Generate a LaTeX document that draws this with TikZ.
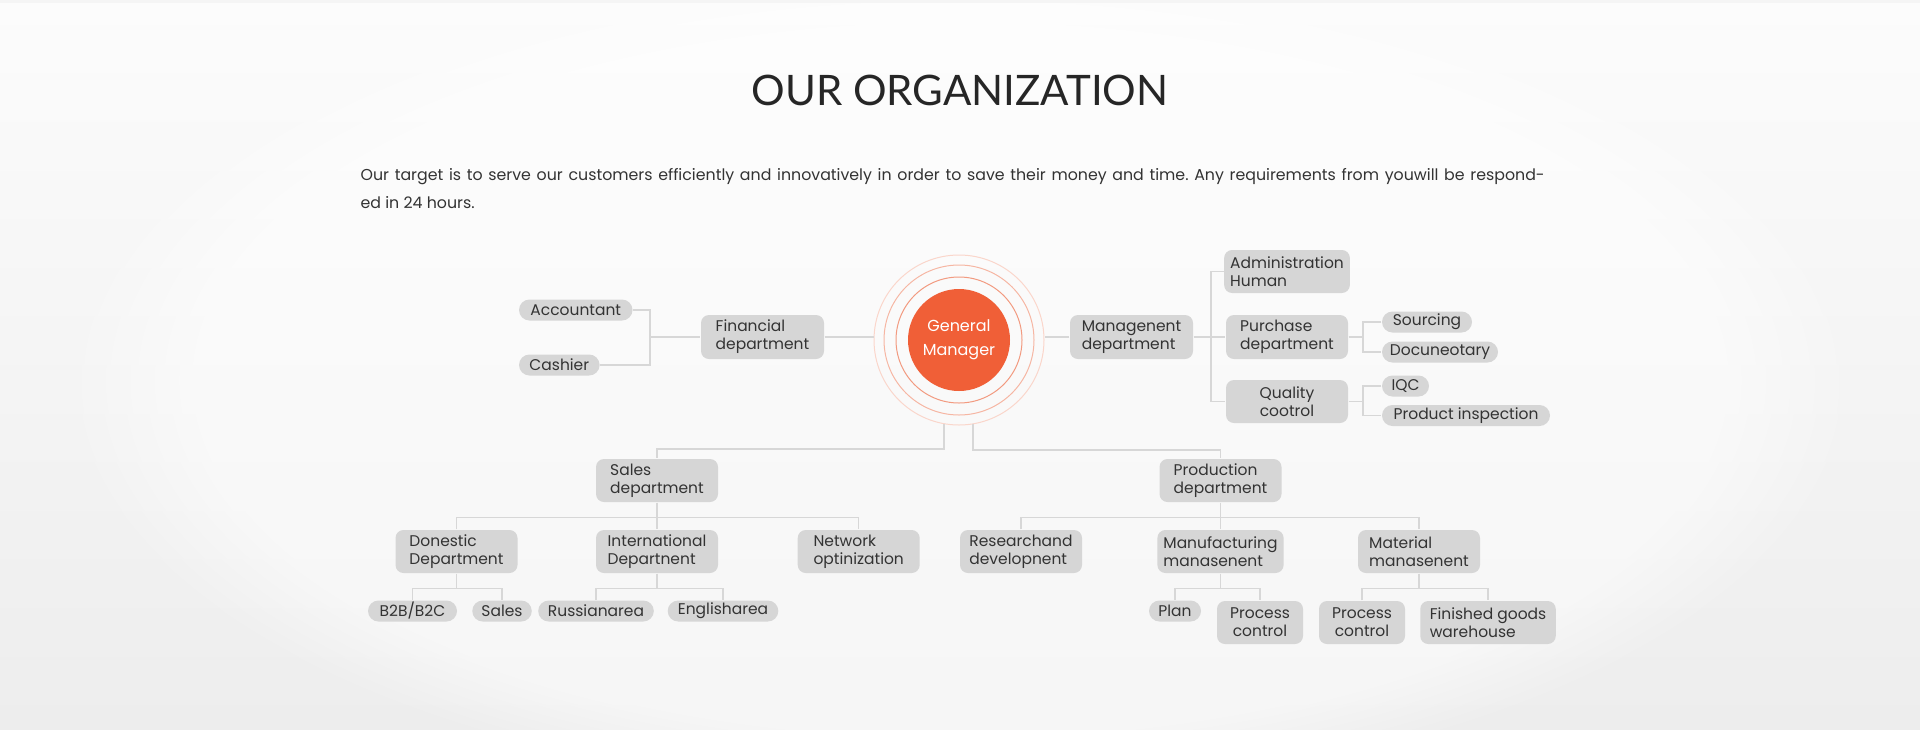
\documentclass[tikz,border=0pt]{standalone}
\usepackage{fontspec}
\setmainfont{Poppins}
\newfontfamily\titlefont{Lato}
\usetikzlibrary{positioning,calc,fadings}
\definecolor{bgtop}{HTML}{FCFCFC}
\definecolor{bgbot}{HTML}{EDEDED}
\definecolor{boxgray}{HTML}{D6D6D6}
\definecolor{linegray}{HTML}{D7D7D7}
\definecolor{textgray}{HTML}{333333}
\definecolor{titlegray}{HTML}{262626}
\definecolor{gmred}{HTML}{F05F37}
\definecolor{ringA}{HTML}{F29A80}
\definecolor{ringB}{HTML}{F6B6A3}
\definecolor{ringC}{HTML}{FAD6CB}
\frenchspacing

\begin{document}
\begin{tikzpicture}
[x=1pt, y=-1pt, line width=1.3pt,
dept/.style={rectangle, fill=boxgray, rounded corners=8pt, inner xsep=6pt, inner ysep=0pt, minimum width=122pt, minimum height=44pt, align=left, text=textgray, font=\fontsize{15.5}{18}\selectfont},
ctrdept/.style={dept, align=center},
pill/.style={rectangle, fill=boxgray, rounded corners=10.5pt, inner xsep=0pt, inner ysep=0pt, minimum height=21pt, text=textgray, font=\fontsize{15.5}{18}\selectfont},
ring/.style={circle, draw, line width=1pt, inner sep=0pt},
link/.style={draw=linegray, line width=1.3pt}]

\useasboundingbox (0,0) rectangle (1920,729);
\shade[top color=bgtop, bottom color=bgbot] (0,0) rectangle (1920,729);
\fill[white, opacity=0.5, path fading=circle with fuzzy edge 15 percent] (960,380) ellipse (900 and 420);
\fill[black!4] (0,0) rectangle (1920,3);

\node[anchor=base, text=titlegray, font=\titlefont\fontsize{42}{50}\selectfont] (title) at (960,105) {OUR ORGANIZATION};
\node[anchor=base west, inner sep=0pt, text=textgray, font=\fontsize{15.8}{18}\selectfont] (intro1) at (360,180)
  {\makebox[1184pt][s]{Our target is to serve our customers efficiently and innovatively in order to save their money and time. Any requirements from youwill be respond-}};
\node[anchor=base west, inner sep=0pt, text=textgray, font=\fontsize{15.8}{18}\selectfont] (intro2) at (360,208) {ed in 24 hours.};

\node[circle, fill=gmred, minimum size=102pt, inner sep=0pt, align=center, text=white, font=\fontsize{16}{24}\selectfont] (gm) at (959,340) {General\\Manager};
\node[ring, draw=ringA, minimum size=126pt] (ring1) at (gm) {};
\node[ring, draw=ringB, minimum size=150pt] (ring2) at (gm) {};
\node[ring, draw=ringC, minimum size=170pt] (ring3) at (gm) {};

\node[dept, minimum width=123pt] (fin) at (762.5,337) {Financial\\department};
\node[pill, minimum width=113.5pt] (acc) at (575.75,310) {Accountant};
\node[pill, minimum width=80.6pt] (cash) at (559.3,365) {Cashier};

\node[dept, minimum width=123pt] (mgmt) at (1131.5,337) {Managenent\\department};
\node[dept, minimum height=43pt] (admin) at (1287,271.5) {Administration\\Human};
\node[dept] (pur) at (1287,337) {Purchase\\department};
\node[ctrdept, minimum height=43pt] (qc) at (1287,401.5) {Quality\\cootrol};
\node[pill, minimum width=90pt] (src) at (1427,322) {Sourcing};
\node[pill, minimum width=116pt] (doc) at (1440,352) {Docuneotary};
\node[pill, minimum width=47pt] (iqc) at (1405.5,386) {IQC};
\node[pill, minimum width=168pt] (pinsp) at (1466,415.5) {Product inspection};

\node[dept, minimum height=43pt] (sales) at (657,480.5) {Sales\\department};
\node[dept, minimum height=43pt] (dom) at (456.5,551.5) {Donestic\\Department};
\node[dept, minimum height=43pt] (intl) at (657,551.5) {International\\Departnent};
\node[dept, minimum height=43pt] (net) at (858.7,551.5) {Network\\optinization};
\node[pill, minimum width=89pt] (b2b) at (412.5,611) {B2B/B2C};
\node[pill, minimum width=59.5pt] (sal) at (502,611) {Sales};
\node[pill, minimum width=115.6pt] (rus) at (596,611) {Russianarea};
\node[pill, minimum width=110.6pt] (eng) at (723,611) {Englisharea};

\node[dept, minimum height=43pt] (prod) at (1220.5,480.5) {Production\\department};
\node[dept, minimum height=43pt] (rnd) at (1021,551.5) {Researchand\\developnent};
\node[dept, minimum height=43pt] (mfg) at (1220.5,551.5) {Manufacturing\\manasenent};
\node[dept, minimum height=43pt] (mat) at (1419,551.5) {Material\\manasenent};
\node[pill, minimum width=52pt] (plan) at (1175,611) {Plan};
\node[ctrdept, minimum width=86pt, minimum height=43pt] (pc1) at (1260,622.5) {Process\\control};
\node[ctrdept, minimum width=86pt, minimum height=43pt] (pc2) at (1362,622.5) {Process\\control};
\node[dept, minimum width=135.5pt, minimum height=43pt] (fgw) at (1488,622.5) {Finished goods\\warehouse};

\coordinate (finbr) at (650,337);
\draw[link] (acc.east) -| (finbr) |- (cash.east);
\draw[link] (finbr) -- (fin.west);
\draw[link] (fin.east) -- (fin.east -| ring3.west);
\draw[link] (mgmt.west) -- (mgmt.west -| ring3.east);

\coordinate (mgbr) at (1211,337);
\draw[link] (mgmt.east) -- (mgbr);
\draw[link] (admin.west) -| (mgbr) |- (qc.west);
\draw[link] (mgbr) -- (pur.west);
\coordinate (purbr) at (1363,337);
\draw[link] (pur.east) -- (purbr);
\draw[link] (src.west) -| (purbr) |- (doc.west);
\coordinate (qcbr) at (1363,401.5);
\draw[link] (qc.east) -- (qcbr);
\draw[link] (iqc.west) -| (qcbr) |- (pinsp.west);

\coordinate (gmL) at ($(gm)+(-15,84)$);
\coordinate (gmR) at ($(gm)+(14,84)$);
\draw[link] (gmL) -- ++(0,25) -| (sales.north);
\draw[link] (gmR) -- ++(0,26) -| (prod.north);

\draw[link] (sales.south) -- ++(0,15) coordinate (salesbr);
\draw[link] (dom.north) |- (salesbr) -| (net.north);
\draw[link] (salesbr) -- (intl.north);
\draw[link] (dom.south) -- ++(0,15) coordinate (dombr);
\draw[link] (b2b.north) |- (dombr) -| (sal.north);
\draw[link] (intl.south) -- ++(0,15) coordinate (intlbr);
\draw[link] (rus.north) |- (intlbr) -| (eng.north);

\draw[link] (prod.south) -- ++(0,15) coordinate (prodbr);
\draw[link] (rnd.north) |- (prodbr) -| (mat.north);
\draw[link] (prodbr) -- (mfg.north);
\draw[link] (mfg.south) -- ++(0,15) coordinate (mfgbr);
\draw[link] (plan.north) |- (mfgbr) -| (pc1.north);
\draw[link] (mat.south) -- ++(0,15) coordinate (matbr);
\draw[link] (pc2.north) |- (matbr) -| (fgw.north);
\end{tikzpicture}
\end{document}
